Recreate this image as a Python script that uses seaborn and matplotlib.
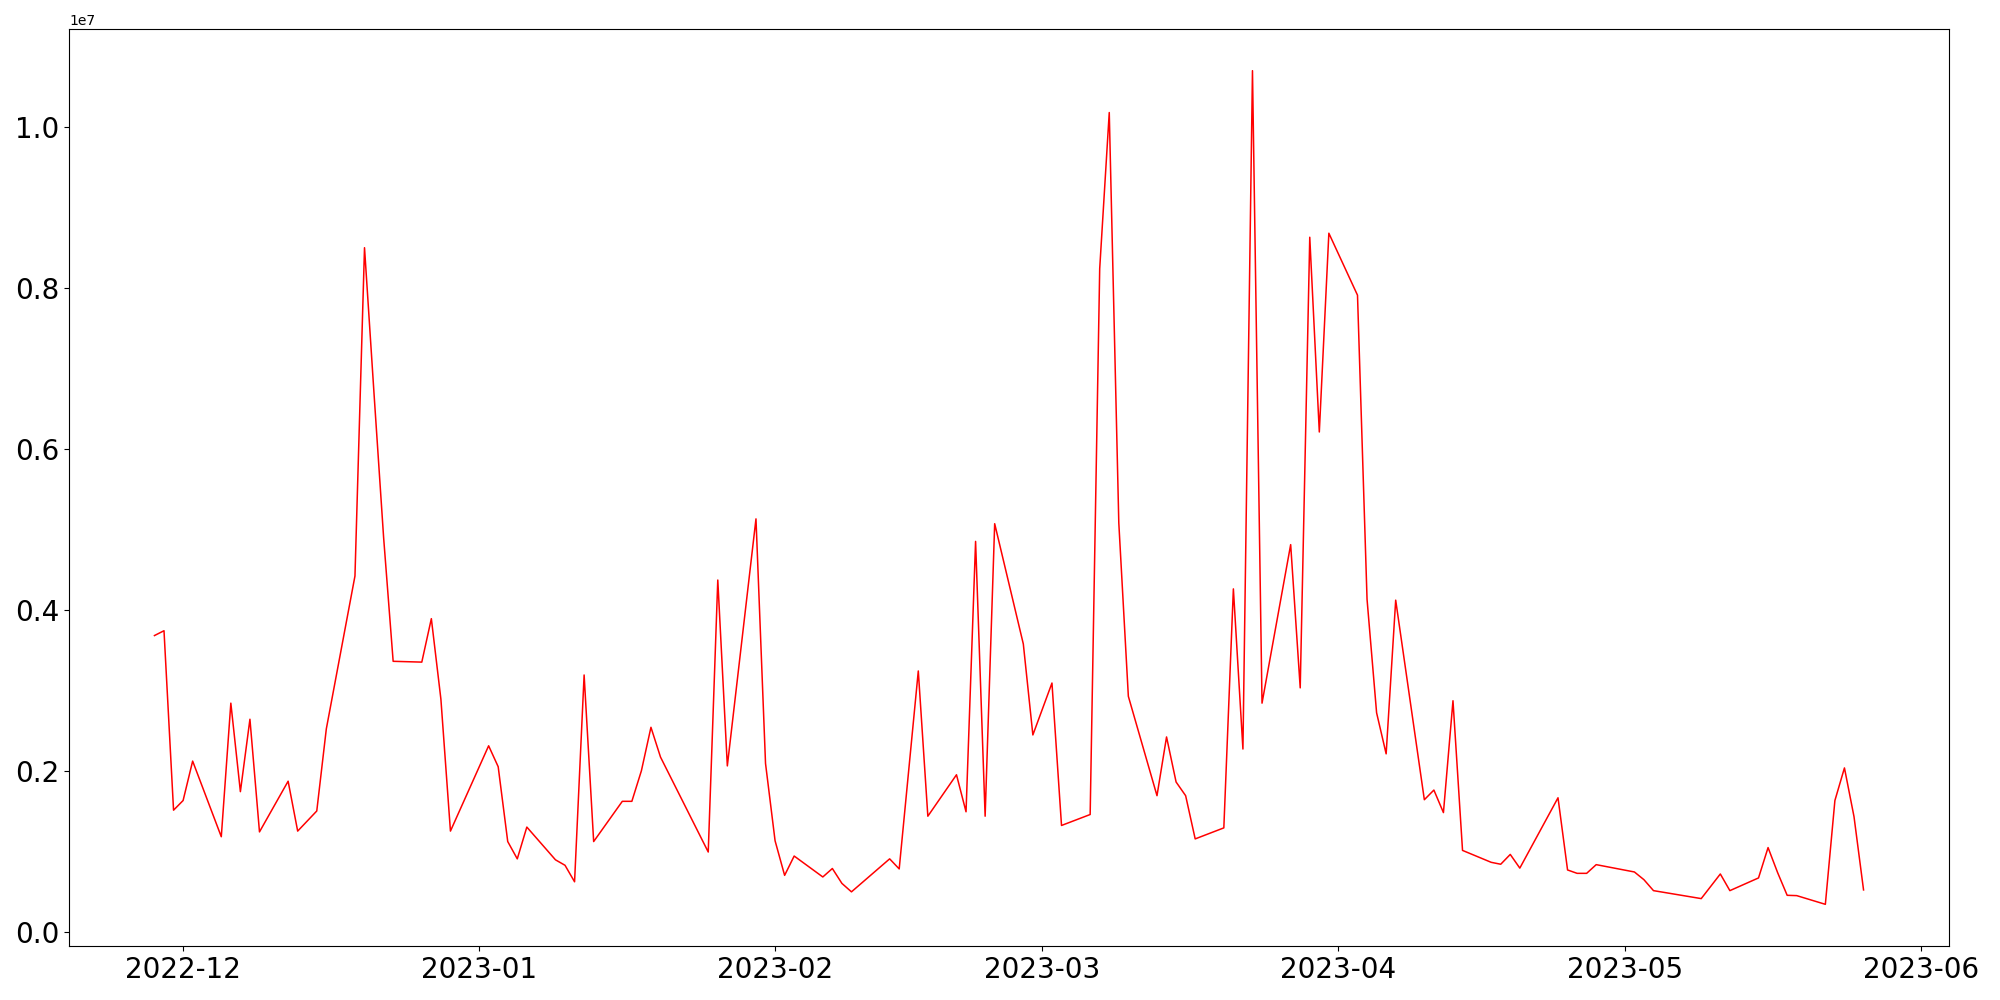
import pandas as pd
import matplotlib
matplotlib.use("Agg")
import matplotlib.pyplot as plt
import seaborn as sns

# daily values (trading days only)
dates = [
    "2022-11-28", "2022-11-29", "2022-11-30", "2022-12-01", "2022-12-02",
    "2022-12-05", "2022-12-06", "2022-12-07", "2022-12-08", "2022-12-09",
    "2022-12-12", "2022-12-13", "2022-12-15", "2022-12-16", "2022-12-19",
    "2022-12-20", "2022-12-21", "2022-12-22", "2022-12-23", "2022-12-26",
    "2022-12-27", "2022-12-28", "2022-12-29", "2023-01-02", "2023-01-03",
    "2023-01-04", "2023-01-05", "2023-01-06", "2023-01-09", "2023-01-10",
    "2023-01-11", "2023-01-12", "2023-01-13", "2023-01-16", "2023-01-17",
    "2023-01-18", "2023-01-19", "2023-01-20", "2023-01-25", "2023-01-26",
    "2023-01-27", "2023-01-30", "2023-01-31", "2023-02-01", "2023-02-02",
    "2023-02-03", "2023-02-06", "2023-02-07", "2023-02-08", "2023-02-09",
    "2023-02-13", "2023-02-14", "2023-02-16", "2023-02-17", "2023-02-20",
    "2023-02-21", "2023-02-22", "2023-02-23", "2023-02-24", "2023-02-27",
    "2023-02-28", "2023-03-02", "2023-03-03", "2023-03-06", "2023-03-07",
    "2023-03-08", "2023-03-09", "2023-03-10", "2023-03-13", "2023-03-14",
    "2023-03-15", "2023-03-16", "2023-03-17", "2023-03-20", "2023-03-21",
    "2023-03-22", "2023-03-23", "2023-03-24", "2023-03-27", "2023-03-28",
    "2023-03-29", "2023-03-30", "2023-03-31", "2023-04-03", "2023-04-04",
    "2023-04-05", "2023-04-06", "2023-04-07", "2023-04-10", "2023-04-11",
    "2023-04-12", "2023-04-13", "2023-04-14", "2023-04-17", "2023-04-18",
    "2023-04-19", "2023-04-20", "2023-04-24", "2023-04-25", "2023-04-26",
    "2023-04-27", "2023-04-28", "2023-05-02", "2023-05-03", "2023-05-04",
    "2023-05-09", "2023-05-11", "2023-05-12", "2023-05-15", "2023-05-16",
    "2023-05-17", "2023-05-18", "2023-05-19", "2023-05-22", "2023-05-23",
    "2023-05-24", "2023-05-25", "2023-05-26",
]

values = [
    3.68e6, 3.74e6, 1.51e6, 1.63e6, 2.12e6,
    1.18e6, 2.84e6, 1.74e6, 2.64e6, 1.24e6,
    1.87e6, 1.25e6, 1.50e6, 2.52e6, 4.42e6,
    8.50e6, 6.68e6, 4.90e6, 3.36e6, 3.35e6,
    3.89e6, 2.89e6, 1.25e6, 2.31e6, 2.05e6,
    1.12e6, 0.905e6, 1.30e6, 0.893e6, 0.825e6,
    0.62e6, 3.19e6, 1.12e6, 1.62e6, 1.62e6,
    2.00e6, 2.54e6, 2.17e6, 0.99e6, 4.37e6,
    2.06e6, 5.13e6, 2.09e6, 1.13e6, 0.70e6,
    0.94e6, 0.68e6, 0.785e6, 0.60e6, 0.495e6,
    0.905e6, 0.78e6, 3.24e6, 1.435e6, 1.95e6,
    1.49e6, 4.85e6, 1.435e6, 5.07e6, 3.575e6,
    2.445e6, 3.09e6, 1.32e6, 1.456e6, 8.24e6,
    10.18e6, 5.08e6, 2.925e6, 1.69e6, 2.42e6,
    1.86e6, 1.69e6, 1.153e6, 1.29e6, 4.26e6,
    2.27e6, 10.70e6, 2.84e6, 4.81e6, 3.03e6,
    8.63e6, 6.21e6, 8.68e6, 7.91e6, 4.13e6,
    2.72e6, 2.21e6, 4.12e6, 1.64e6, 1.76e6,
    1.48e6, 2.87e6, 1.01e6, 0.862e6, 0.838e6,
    0.96e6, 0.79e6, 1.664e6, 0.767e6, 0.725e6,
    0.725e6, 0.833e6, 0.742e6, 0.646e6, 0.51e6,
    0.411e6, 0.717e6, 0.51e6, 0.668e6, 1.045e6,
    0.734e6, 0.452e6, 0.448e6, 0.34e6, 1.63e6,
    2.035e6, 1.43e6, 0.519e6,
]

df = pd.DataFrame({"date": pd.to_datetime(dates), "value": values})

fig, ax = plt.subplots(figsize=(20, 10), dpi=100)
sns.lineplot(data=df, x="date", y="value", color="red", linewidth=1.1, ax=ax)

ax.set_xlabel("")
ax.set_ylabel("")
ax.tick_params(axis="both", labelsize=20)

fig.subplots_adjust(left=0.0345, right=0.9745, bottom=0.054, top=0.971)
fig.savefig("out.png", dpi=100)
